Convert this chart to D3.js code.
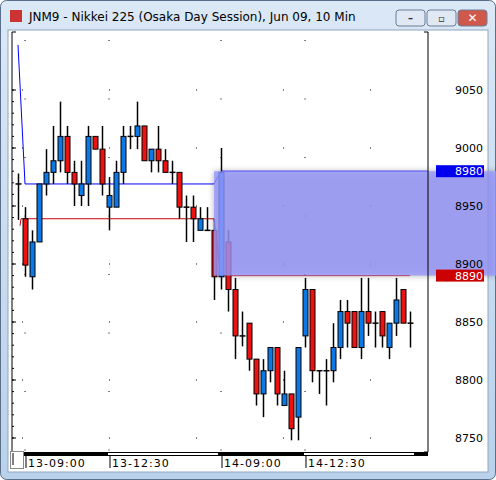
<!DOCTYPE html><html><head><meta charset="utf-8">
<script src="https://cdn.jsdelivr.net/npm/d3@7"></script>
<style>body{margin:0;background:#fff}svg{display:block}</style></head><body>
<svg id="c" width="496" height="480"></svg>
<script>
// OHLC per 10-min bar
const opens  =[8969,8939,8889,8919,8969,8979,8989,9010,8979,8959,8969,9010,8999,8949,8949,8979,9010,9010,9019,8989,8999,8989,8979,8979,8949,8949,8929,8929,8929,8889,8919,8878,8838,8849,8818,8788,8808,8828,8778,8788,8768,8838,8878,8808,8808,8808,8828,8859,8859,8828,8859,8849,8859,8828,8849,8878,8849];
const closes =[8969,8899,8919,8969,8979,8989,9010,8979,8969,8969,9010,8999,8969,8959,8979,9010,9010,9019,8989,8999,8989,8979,8979,8949,8949,8939,8939,8929,8889,8979,8878,8838,8838,8818,8788,8808,8828,8788,8788,8758,8828,8878,8808,8808,8808,8828,8859,8849,8828,8859,8849,8849,8838,8849,8869,8849,8849];
const highs  =[8978,8949,8929,8969,8999,9019,9040,9019,8989,8989,9019,9010,9019,8975,8989,9019,9019,9040,9019,8999,9019,8999,8989,8979,8959,8959,8949,8949,8939,9000,8929,8888,8859,8849,8818,8818,8828,8828,8808,8788,8828,8888,8878,8808,8818,8849,8869,8869,8859,8888,8888,8859,8859,8849,8888,8878,8859];
const lows   =[8938,8889,8878,8919,8959,8969,8979,8969,8950,8950,8950,8999,8959,8929,8949,8969,8999,8999,8989,8979,8979,8979,8969,8939,8919,8919,8929,8929,8869,8878,8859,8818,8829,8808,8778,8768,8798,8778,8778,8748,8748,8828,8798,8788,8778,8798,8818,8828,8828,8818,8838,8828,8828,8818,8838,8849,8828];
const timeLabels=["13-09:00","13-12:30","14-09:00","14-12:30"];
const timeIdx=[1,13,29,41];
const priceTicks=[8750,8800,8850,8900,8950,9000,9050];
const zoneHigh=8980, zoneLow=8890, upperLine=8969, lowerLine=8939;

const svg=d3.select("#c");
const g0=svg.append("defs");
const tg=g0.append("linearGradient").attr("id","tb").attr("x1",0).attr("y1",0).attr("x2",0).attr("y2",1);
tg.append("stop").attr("offset",0).attr("stop-color","#dbe8f6");
tg.append("stop").attr("offset",1).attr("stop-color","#b9d1ea");
const fl=g0.append("filter").attr("id","sh").attr("x","-10%").attr("y","-10%").attr("width","120%").attr("height","130%");
fl.append("feGaussianBlur").attr("in","SourceAlpha").attr("stdDeviation",3);
svg.append("rect").attr("x",0.5).attr("y",0.5).attr("width",495).attr("height",479).attr("rx",6).attr("fill","url(#tb)").attr("stroke","#5a6f8a");
svg.append("rect").attr("x",8).attr("y",30).attr("width",480).attr("height",442).attr("fill","#fff").attr("stroke","#8fa6c0");
svg.append("rect").attr("x",10).attr("y",10).attr("width",12).attr("height",12).attr("fill","#c33");
svg.append("text").attr("x",29).attr("y",21).attr("font-family","DejaVu Sans").attr("font-size",12).attr("fill","#000").text("JNM9 - Nikkei 225 (Osaka Day Session), Jun 09, 10 Min");
[[396,"#dfe8f3"],[427,"#dfe8f3"],[458,"#d0584a"]].forEach(([x,c],k)=>{
  svg.append("rect").attr("x",x).attr("y",10).attr("width",29).attr("height",16).attr("rx",3).attr("fill",c).attr("stroke","#6a7f99");
  svg.append("text").attr("x",x+14.5).attr("y",22).attr("text-anchor","middle").attr("font-size",k==2?12:10).attr("font-family","DejaVu Sans").attr("font-weight","bold").attr("fill",k==2?"#fff":"#333").text(["–","▫","✕"][k]);
});

const x=d3.scaleLinear().domain([0,1]).range([18,25]);
const y=d3.scaleLinear().domain([8750,9050]).range([438,90]);
const plotL=12, plotR=428, plotT=32, plotB=452;

const gd=svg.append("g");
timeIdx.forEach(i=>gd.append("line").attr("x1",x(i)).attr("x2",x(i)).attr("y1",plotT+8).attr("y2",plotB).attr("stroke","#000").attr("stroke-dasharray","1,57.5"));
priceTicks.forEach(p=>gd.append("line").attr("x1",plotL+10).attr("x2",plotR).attr("y1",y(p)).attr("y2",y(p)).attr("stroke","#000").attr("stroke-dasharray","1,86"));

svg.append("rect").attr("x",x(28)).attr("y",y(zoneHigh)).attr("width",496-x(28)).attr("height",y(zoneLow)-y(zoneHigh)).attr("fill","#000").attr("opacity",0.3).attr("filter","url(#sh)");

svg.append("path").attr("fill","none").attr("stroke","#0000ff").attr("d",d3.line()([[x(0),45],[x(1),y(upperLine)],[x(28),y(upperLine)],[x(29),y(zoneHigh)],[plotR,y(zoneHigh)]]));
svg.append("path").attr("fill","none").attr("stroke","#cc0000").attr("d",d3.line()([[x(0)+2,y(8933)],[x(0)+3,y(lowerLine)],[x(28),y(lowerLine)],[x(29),y(zoneLow)],[x(56),y(zoneLow)]]));

const cg=svg.append("g");
opens.forEach((o,i)=>{
  const c=closes[i], cx=x(i)+0.5;
  cg.append("line").attr("x1",cx).attr("x2",cx).attr("y1",y(highs[i])).attr("y2",y(lows[i])).attr("stroke","#000").attr("stroke-width",1.5);
  if(o===c){cg.append("line").attr("x1",cx-3).attr("x2",cx+3).attr("y1",y(o)).attr("y2",y(o)).attr("stroke","#000").attr("stroke-width",1.5);}
  else cg.append("rect").attr("x",cx-2.5).attr("width",5).attr("y",y(Math.max(o,c))).attr("height",y(Math.min(o,c))-y(Math.max(o,c))).attr("fill",c>o?"#0a78e6":"#ee1111").attr("stroke","#000").attr("stroke-width",1);
});
svg.append("rect").attr("x",x(28)).attr("y",y(zoneHigh)).attr("width",496-x(28)).attr("height",y(zoneLow)-y(zoneHigh)).attr("fill","#9999ff").attr("opacity",0.8);

svg.append("path").attr("fill","none").attr("stroke","#000").attr("d",`M${plotL+4},${plotT}H${plotL}V${plotB}H${plotL+4}M${plotR-4},${plotT}H${plotR}V${plotB}H${plotR-4}`);
priceTicks.forEach(p=>{
  svg.append("line").attr("x1",plotL).attr("x2",plotL+4).attr("y1",y(p)).attr("y2",y(p)).attr("stroke","#000");
  svg.append("text").attr("x",455).attr("y",y(p)+4).attr("font-family","DejaVu Sans").attr("font-size",11).text(p);
});
d3.range(8750,9060,10).forEach(p=>svg.append("line").attr("x1",plotL).attr("x2",plotL+2).attr("y1",y(p)).attr("y2",y(p)).attr("stroke","#000"));
[[zoneHigh,"#0000ee"],[zoneLow,"#cc0000"]].forEach(([p,c])=>{
  svg.append("rect").attr("x",436).attr("y",y(p)-6).attr("width",48).attr("height",12).attr("fill",c);
  svg.append("text").attr("x",455).attr("y",y(p)+4).attr("font-family","DejaVu Sans").attr("font-size",11).attr("fill","#fff").text(p);
});
svg.append("rect").attr("x",24).attr("y",452).attr("width",404).attr("height",4).attr("fill","#000");
[13,41].forEach(i=>svg.append("rect").attr("x",x(i)-1).attr("y",453).attr("width",110).attr("height",2).attr("fill","#fff"));
svg.append("rect").attr("x",10.5).attr("y",451.5).attr("width",13).attr("height",17).attr("fill","#fff").attr("stroke","#888");
svg.append("line").attr("x1",13).attr("x2",13).attr("y1",453).attr("y2",465).attr("stroke","#000");
timeLabels.forEach((t,k)=>{
  const xx=x(timeIdx[k])+1;
  svg.append("line").attr("x1",xx).attr("x2",xx).attr("y1",456).attr("y2",468).attr("stroke","#000");
  svg.append("text").attr("x",xx+2).attr("y",467).attr("font-family","DejaVu Sans").attr("font-size",11).attr("letter-spacing",1).text(t);
});
</script></body></html>
